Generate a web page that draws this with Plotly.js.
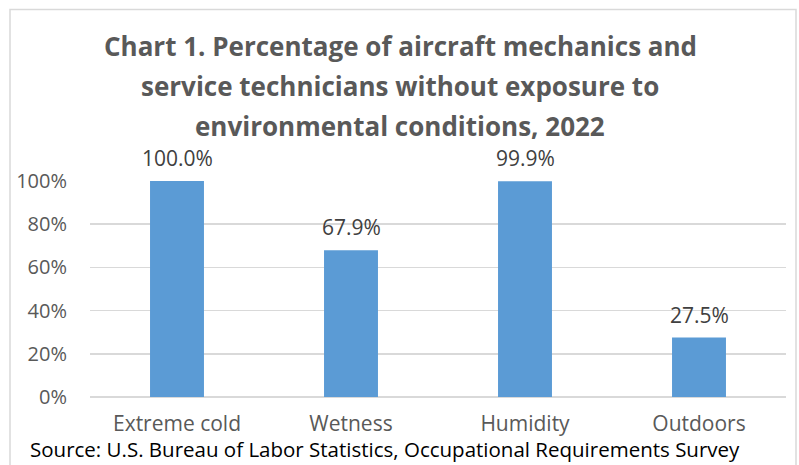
<!DOCTYPE html>
<html>
<head>
<meta charset="utf-8">
<script src="https://cdn.plot.ly/plotly-3.0.1.min.js"></script>
<style>html,body{margin:0;padding:0;background:#fff;}#chart{width:799px;height:465px;}</style>
</head>
<body>
<div id="chart"></div>
<script>
const categories = ["Extreme cold", "Wetness", "Humidity", "Outdoors"];
const values = [1.000, 0.679, 0.999, 0.275];
const valueLabels = ["100.0%", "67.9%", "99.9%", "27.5%"];
const yTickVals = [0, 0.2, 0.4, 0.6, 0.8, 1.0];
const yTickText = ["0%", "20%", "40%", "60%", "80%", "100%"];
const titleLines = [
  "Chart 1. Percentage of aircraft mechanics and",
  "service technicians without exposure to",
  "environmental conditions, 2022"
];
const sourceText = "Source: U.S. Bureau of Labor Statistics, Occupational Requirements Survey";

const W = 799, H = 465;
const m = {l: 90, r: 13, t: 181, b: 68};
const pw = W - m.l - m.r, ph = H - m.t - m.b;
const px = x => (x - m.l) / pw;
const py = y => (H - m.b - y) / ph;

const FONT = "'Open Sans', 'Liberation Sans', sans-serif";

const annotations = [];
titleLines.forEach((t, i) => {
  annotations.push({
    xref: 'paper', yref: 'paper', x: px(400), y: py(45.5 + 40 * i),
    text: '<b>' + t + '</b>', showarrow: false, xanchor: 'center', yanchor: 'middle',
    font: {family: FONT, size: 26, color: '#595959'}
  });
});
categories.forEach((c, i) => {
  annotations.push({
    x: c, y: values[i], xref: 'x', yref: 'y', text: valueLabels[i], showarrow: false,
    xanchor: 'center', yanchor: 'bottom', yshift: 7,
    font: {family: FONT, size: 21, color: '#404040'}
  });
});
annotations.push({
  xref: 'paper', yref: 'paper', x: px(28), y: py(465), xanchor: 'left', yanchor: 'bottom',
  text: sourceText, showarrow: false, font: {family: FONT, size: 20.5, color: '#000000'}
});

const data = [{
  type: 'bar', x: categories, y: values,
  marker: {color: '#5B9BD5'}, hoverinfo: 'skip', cliponaxis: false
}];

const layout = {
  width: W, height: H,
  margin: m,
  paper_bgcolor: '#ffffff', plot_bgcolor: '#ffffff',
  showlegend: false,
  bargap: 0.69,
  font: {family: FONT, color: '#595959'},
  xaxis: {
    type: 'category', showgrid: false, zeroline: false, showline: false, ticks: '',
    tickfont: {family: FONT, size: 21, color: '#595959'}, ticklabelstandoff: 12
  },
  yaxis: {
    range: [0, 1], tickvals: yTickVals, ticktext: yTickText,
    showgrid: true, gridcolor: '#D9D9D9', gridwidth: 1.5,
    zeroline: true, zerolinecolor: '#D9D9D9', zerolinewidth: 1.5,
    showline: false, ticks: '', ticklabelstandoff: 22,
    tickfont: {family: FONT, size: 20, color: '#595959'}
  },
  annotations: annotations,
  shapes: [{
    type: 'rect', xref: 'paper', yref: 'paper',
    x0: px(10), x1: px(796), y0: py(480), y1: py(9.5),
    line: {color: '#D9D9D9', width: 1.5}, fillcolor: 'rgba(0,0,0,0)', layer: 'below'
  }]
};

Plotly.newPlot('chart', data, layout, {displayModeBar: false, staticPlot: true});
</script>
</body>
</html>
